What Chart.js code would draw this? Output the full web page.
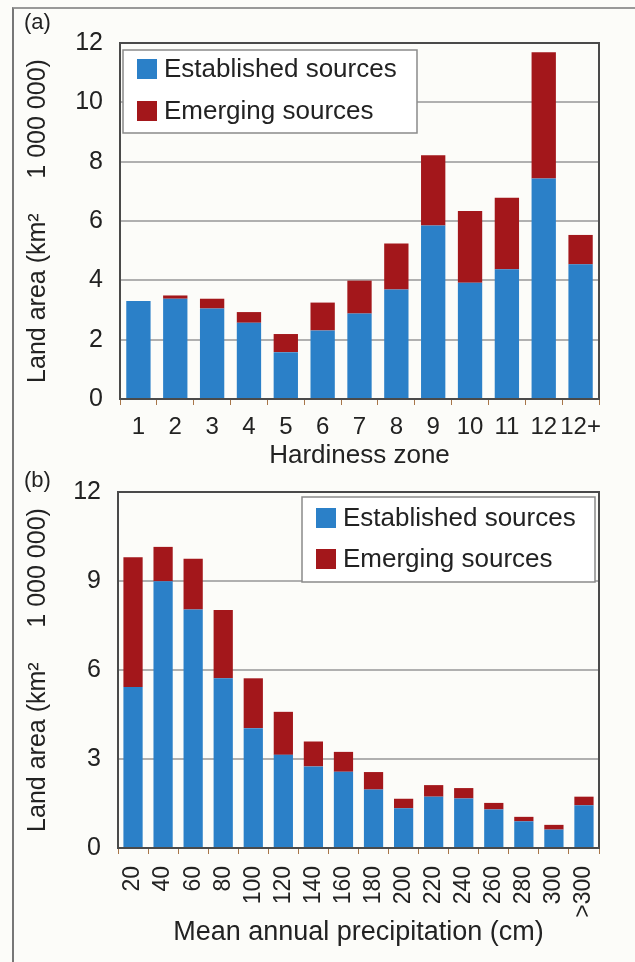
<!DOCTYPE html>
<html>
<head>
<meta charset="utf-8">
<script src="https://cdn.jsdelivr.net/npm/chart.js@4/dist/chart.umd.min.js"></script>
<style>
  body { margin: 0; background: #fcfcf9; font-family: "Liberation Sans", Arial, sans-serif; }
  #frame { position: absolute; left: 12px; top: 7px; width: 640px; height: 980px;
           border-left: 2px solid #777; border-top: 2px solid #999; }
  .box { position: absolute; left: 0; width: 635px; }
  .tag { position: absolute; left: 24px; font-size: 22px; color: #222; }
</style>
</head>
<body>
<div id="frame"></div>
<div class="box" style="top:0;height:480px"><canvas id="chartA"></canvas></div>
<div class="box" style="top:460px;height:502px"><canvas id="chartB"></canvas></div>
<div class="tag" style="top:9px">(a)</div>
<div class="tag" style="top:467px">(b)</div>
<script>
document.addEventListener("DOMContentLoaded", function() {
	// (a) hardiness zone
	const zones = ['1','2','3','4','5','6','7','8','9','10','11','12','12+'];
	const zoneEstablished = [3.30, 3.38, 3.05, 2.57, 1.58, 2.31, 2.88, 3.69, 5.85, 3.92, 4.37, 7.43, 4.54];
	const zoneEmerging = [0.00, 0.11, 0.33, 0.36, 0.61, 0.94, 1.11, 1.55, 2.37, 2.42, 2.41, 4.26, 0.99];
	const zoneTicks = [0, 2, 4, 6, 8, 10, 12];

	// (b) mean annual precipitation
	const precip = ['20','40','60','80','100','120','140','160','180','200','220','240','260','280','300','>300'];
	const precipEstablished = [5.43, 8.99, 8.04, 5.72, 4.04, 3.14, 2.75, 2.57, 1.97, 1.34, 1.73, 1.67, 1.30, 0.90, 0.62, 1.44];
	const precipEmerging = [4.37, 1.16, 1.71, 2.30, 1.68, 1.45, 0.84, 0.67, 0.59, 0.32, 0.39, 0.35, 0.22, 0.15, 0.16, 0.29];
	const precipTicks = [0, 3, 6, 9, 12];

	const blue = '#2b80c8';
	const red = '#a3171b';
	const txt = '#222';
	const fontFam = '"Liberation Sans", Arial, sans-serif';

	// frame round the plot area and a boxed legend
	function boxLegend(lg){
		return {
			id: 'boxLegend',
			afterDraw(chart){
				const c = chart.ctx, a = chart.chartArea;
				c.save();
				c.strokeStyle = '#4a4a4a';
				c.lineWidth = 2;
				c.strokeRect(a.left, a.top, a.right - a.left, a.bottom - a.top);
				c.fillStyle = '#fff';
				c.fillRect(lg.x, lg.y, lg.w, lg.h);
				c.strokeStyle = '#8a8a8a';
				c.lineWidth = 1.5;
				c.strokeRect(lg.x, lg.y, lg.w, lg.h);
				c.font = '26px ' + fontFam;
				c.textBaseline = 'middle';
				chart.data.datasets.forEach(function(ds, i){
					const cy = lg.y + lg.row0 + i * lg.gap;
					c.fillStyle = ds.backgroundColor;
					c.fillRect(lg.x + 14, cy - 10, 20, 20);
					c.fillStyle = txt;
					c.fillText(ds.label, lg.x + 41, cy + 1);
				});
				c.restore();
			}
		};
	}

	function makeChart(id, labels, est, emg, ticks, o){
		const ctx = document.getElementById(id).getContext('2d');
		return new Chart(ctx, {
			type: 'bar',
			data: {
				labels: labels,
				datasets: [{
					label: 'Established sources',
					data: est,
					backgroundColor: blue,
					barPercentage: o.barPct,
					categoryPercentage: 1
				}, {
					label: 'Emerging sources',
					data: emg,
					backgroundColor: red,
					barPercentage: o.barPct,
					categoryPercentage: 1
				}]
			},
			options: {
				responsive: true,
				maintainAspectRatio: false,
				animation: false,
				layout: { padding: { top: o.top, right: o.right, left: 0, bottom: 0 } },
				plugins: {
					legend: { display: false },
					tooltip: { enabled: false }
				},
				scales: {
					x: {
						stacked: true,
						grid: { drawOnChartArea: false, color: '#a8764a', tickLength: 6, offset: true },
						border: { color: '#4a4a4a', width: 2 },
						ticks: {
							color: txt, font: { family: fontFam, size: o.xFont },
							maxRotation: o.rot, minRotation: o.rot, autoSkip: false, padding: o.xPad
						},
						// bottom titles are offset from the edge by padding.bottom
						title: { display: true, text: o.xTitle, color: txt, font: { family: fontFam, size: o.xTitleFont }, padding: { top: 0, bottom: o.xTitlePad } },
						afterFit: function(s){ s.height = o.xHeight; }
					},
					y: {
						stacked: true,
						min: 0,
						max: ticks[ticks.length - 1],
						afterBuildTicks: function(s){ s.ticks = ticks.map(v => ({ value: v })); },
						grid: { color: '#b0b0b0', lineWidth: 2, drawTicks: false },
						border: { color: '#4a4a4a', width: 2 },
						ticks: { color: txt, font: { family: fontFam, size: 25 }, padding: 17 },
						title: { display: true, text: 'Land area (km\u00b2     1 000 000)', color: txt, font: { family: fontFam, size: 25 }, padding: { top: 23, bottom: 0 } },
						afterFit: function(s){ s.width = o.yWidth; }
					}
				}
			},
			plugins: [boxLegend(o.legend)]
		});
	}

	makeChart('chartA', zones, zoneEstablished, zoneEmerging, zoneTicks, {
		xTitle: 'Hardiness zone', rot: 0, xFont: 24, xPad: 8, xTitlePad: 9, xTitleFont: 26,
		barPct: 0.66, yWidth: 120, xHeight: 81, top: 43, right: 36,
		legend: { x: 123, y: 50, w: 294, h: 83, row0: 19, gap: 42 }
	});
	makeChart('chartB', precip, precipEstablished, precipEmerging, precipTicks, {
		xTitle: 'Mean annual precipitation (cm)', rot: 90, xFont: 23, xPad: 12, xTitlePad: 13, xTitleFont: 27,
		barPct: 0.64, yWidth: 118, xHeight: 114, top: 29, right: 36,
		legend: { x: 302, y: 37, w: 293, h: 85, row0: 21, gap: 41 }
	});
});
</script>
</body>
</html>
